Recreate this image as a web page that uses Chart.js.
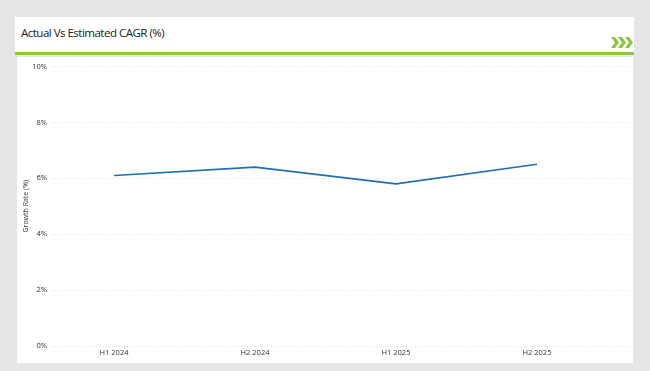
<!DOCTYPE html>
<html><head><meta charset="utf-8">
<script src="https://cdn.jsdelivr.net/npm/chart.js@4/dist/chart.umd.min.js"></script>
<style>
html,body{margin:0;padding:0;background:#e6e6e6;width:650px;height:371px;overflow:hidden;font-family:"Open Sans",sans-serif;}
#hdr{position:absolute;left:15px;top:17px;width:619px;height:35px;background:#fff;}
#hdr .t{position:absolute;left:6px;top:8px;font-size:11.6px;color:#222;font-family:"Open Sans",sans-serif;letter-spacing:-0.55px;}
#bar{position:absolute;left:15px;top:52px;width:619px;height:3px;background:#8dc63f;}
#chev{position:absolute;left:611px;top:37px;}
#panel{position:absolute;left:17px;top:57px;width:616px;height:306px;background:#fff;}
</style></head><body>
<div id="hdr"><div class="t">Actual Vs Estimated CAGR (%)</div></div>
<svg id="chev" width="22" height="11" viewBox="0 0 22 11">
<polygon points="0,0 4,0 8,5.5 4,11 0,11 4,5.5" fill="#8dc63f"/>
<polygon points="7,0 11,0 15,5.5 11,11 7,11 11,5.5" fill="#8dc63f"/>
<polygon points="14,0 18,0 22,5.5 18,11 14,11 18,5.5" fill="#8dc63f"/>
</svg>
<div id="bar"></div>
<div id="panel"><canvas id="c" width="616" height="306"></canvas></div>
<script>
const categories = ["H1 2024", "H2 2024", "H1 2025", "H2 2025"];
const growthRate = [6.1, 6.4, 5.8, 6.5];
const yTicks = [0, 2, 4, 6, 8, 10];

const pts = growthRate.map((v, i) => ({x: i, y: v}));
const font = {family: "'Open Sans', sans-serif", size: 7.5};
new Chart(document.getElementById('c'), {
  type: 'line',
  data: {datasets: [{data: pts, borderColor: '#1f6eb0', borderWidth: 1.6, pointRadius: 0, tension: 0, fill: false}]},
  options: {
    responsive: false, animation: false,
    layout: {padding: {top: 9, right: 3, left: 0, bottom: 0}},
    plugins: {legend: {display: false}, tooltip: {enabled: false}},
    scales: {
      x: {
        type: 'linear', min: -0.44, max: 3.66,
        afterBuildTicks: (ax) => { ax.ticks = categories.map((c, i) => ({value: i})); },
        ticks: {callback: (v) => categories[v] ?? '', color: '#333', font: font, padding: 2, maxRotation: 0, autoSkip: false},
        grid: {display: false, drawTicks: false},
        border: {display: false},
        afterFit: (ax) => { ax.height = 17; }
      },
      y: {
        min: 0, max: 10,
        afterBuildTicks: (ax) => { ax.ticks = yTicks.map(v => ({value: v})); },
        ticks: {callback: (v) => v + '%', color: '#333', font: font, padding: 5},
        grid: {color: '#d9d9d9', lineWidth: 0.8, drawTicks: false},
        border: {display: false, dash: [1, 2]},
        title: {display: true, text: 'Growth Rate (%)', color: '#333', font: {family: "'Open Sans', sans-serif", size: 7}, padding: {top: 5, bottom: 0}},
        afterFit: (ax) => { ax.width = 35; }
      }
    }
  }
});
</script>
</body></html>
